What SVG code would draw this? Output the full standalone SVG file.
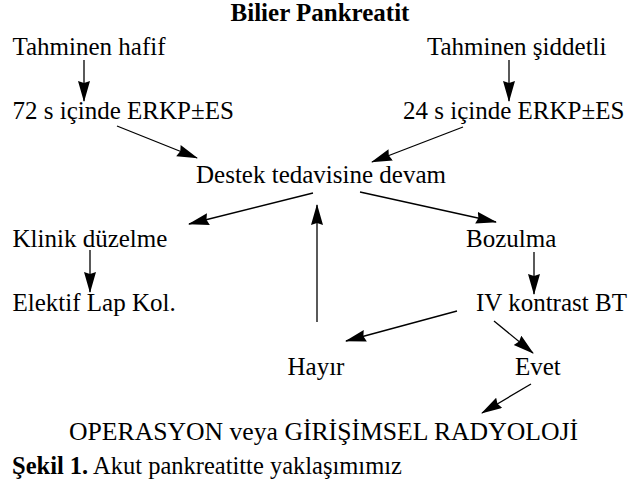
<svg xmlns="http://www.w3.org/2000/svg" width="643" height="483" viewBox="0 0 643 483">
<style>
text{font-family:"Liberation Serif","Times New Roman",serif;font-size:25px;fill:#000}
.b{font-weight:bold}
.c{text-anchor:middle}
.cap{font-size:24.5px}
#connectors line{stroke:#000;stroke-width:1.3;fill:none;marker-end:url(#ah)}
</style>
<defs>
<marker id="ah" markerUnits="userSpaceOnUse" markerWidth="22" markerHeight="13" refX="20" refY="6" orient="auto">
<path d="M0,0 L21,6 L0,12 L2,6 z" fill="#000"/>
</marker>
</defs>
<rect width="643" height="483" fill="#fff"/>
<g id="title"><text class="b c" x="320" y="21">Bilier Pankreatit</text></g>
<g id="n-hafif"><text x="12.5" y="55">Tahminen hafif</text></g>
<g id="n-siddetli"><text x="427" y="55">Tahminen şiddetli</text></g>
<g id="n-72"><text x="12.5" y="119">72 s içinde ERKP±ES</text></g>
<g id="n-24"><text x="403" y="119">24 s içinde ERKP±ES</text></g>
<g id="n-destek"><text class="c" x="321" y="183">Destek tedavisine devam</text></g>
<g id="n-klinik"><text x="12.5" y="247">Klinik düzelme</text></g>
<g id="n-bozulma"><text x="466" y="247">Bozulma</text></g>
<g id="n-elektif"><text x="12.5" y="311">Elektif Lap Kol.</text></g>
<g id="n-bt"><text x="476" y="311">IV kontrast BT</text></g>
<g id="n-hayir"><text x="287.5" y="375">Hayır</text></g>
<g id="n-evet"><text x="515" y="375">Evet</text></g>
<g id="n-op"><text x="69" y="440" textLength="509" lengthAdjust="spacingAndGlyphs">OPERASYON veya GİRİŞİMSEL RADYOLOJİ</text></g>
<g id="caption"><text class="cap" x="12" y="474"><tspan class="b">Şekil 1.</tspan> Akut pankreatitte yaklaşımımız</text></g>
<g id="connectors">
<line x1="84" y1="60" x2="84" y2="101"/>
<line x1="509" y1="60" x2="509" y2="101"/>
<line x1="117" y1="126" x2="197" y2="158"/>
<line x1="463" y1="127" x2="372" y2="162"/>
<line x1="313" y1="193" x2="189" y2="224"/>
<line x1="360" y1="192" x2="496" y2="222"/>
<line x1="317" y1="322" x2="317" y2="205"/>
<line x1="90" y1="250" x2="90" y2="292"/>
<line x1="534" y1="252" x2="534" y2="294"/>
<line x1="457" y1="311" x2="346" y2="341"/>
<line x1="494" y1="321" x2="533" y2="353"/>
<line x1="531" y1="384" x2="482" y2="413"/>
</g>
</svg>
